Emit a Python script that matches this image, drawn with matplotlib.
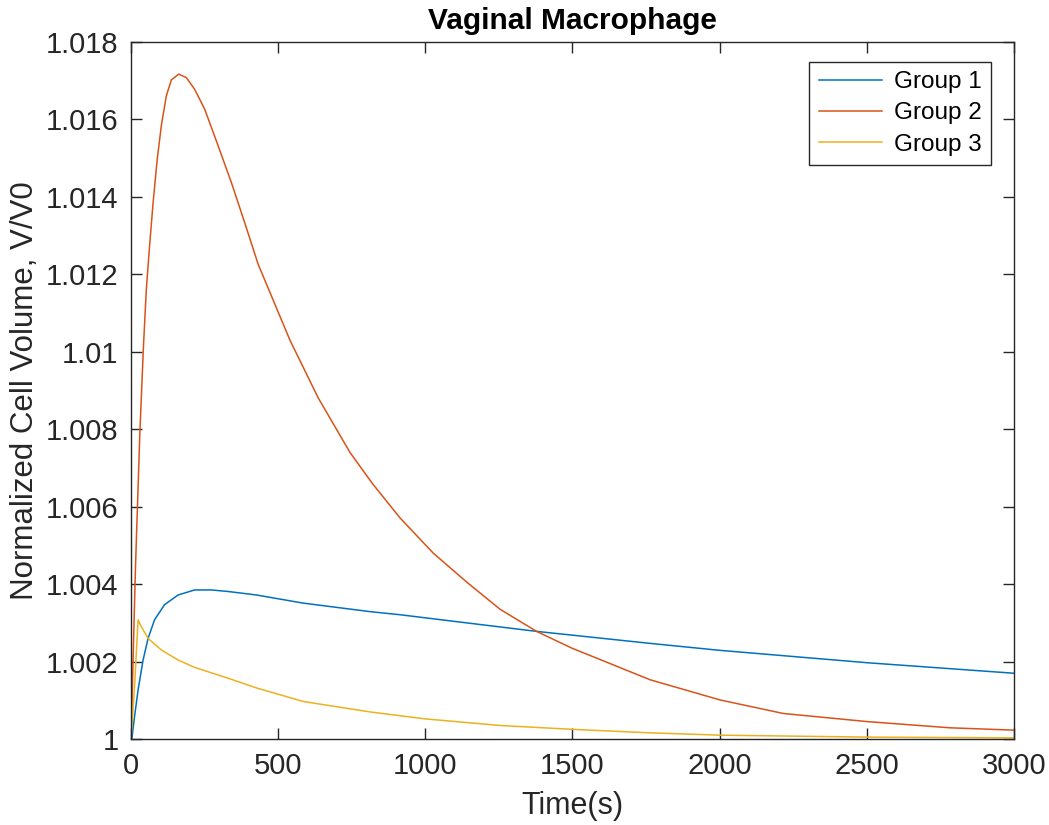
#!/usr/bin/env python3
import matplotlib
matplotlib.use('Agg')
import matplotlib.pyplot as plt

# Data (time in s, normalized volume V/V0)
t1 = [0, 3, 12, 24, 41, 58, 80, 114, 160, 216, 273, 330, 426, 585, 812,
      914, 1140, 1378, 1764, 2001, 2502, 2998]
v1 = [1.0, 1.00002, 1.00058, 1.00127, 1.00204, 1.0026, 1.00308, 1.00347,
      1.00372, 1.00385, 1.00385, 1.00381, 1.00372, 1.00351, 1.00329,
      1.00321, 1.003, 1.00278, 1.00247, 1.00229, 1.00197, 1.0017]

t2 = [0, 15, 30, 42, 52, 63, 75, 89, 103, 120, 137, 162, 188, 216, 250,
      296, 341, 386, 432, 540, 636, 744, 820, 914, 1027, 1141, 1254, 1378,
      1497, 1764, 2001, 2216, 2502, 2783, 2998]
v2 = [1.0, 1.0044, 1.0079, 1.0101, 1.01161, 1.01273, 1.01385, 1.01497,
      1.01584, 1.01661, 1.01702, 1.01717, 1.01708, 1.01678, 1.01627,
      1.01532, 1.01437, 1.01334, 1.01226, 1.0103, 1.00881, 1.0074,
      1.0066, 1.00571, 1.0048, 1.00405, 1.00335, 1.00278, 1.00235,
      1.00153, 1.00101, 1.00066, 1.00045, 1.00029, 1.00023]

t3 = [0, 12, 24, 35, 58, 103, 160, 216, 330, 426, 585, 812, 1000, 1254,
      1500, 1764, 2001, 2500, 3000]
v3 = [1.0, 1.00135, 1.00308, 1.0029, 1.0026, 1.0023, 1.00204, 1.00185,
      1.00157, 1.00132, 1.00097, 1.0007, 1.00052, 1.00035,
      1.00025, 1.00016, 1.0001, 1.00005, 1.00003]

labels = ['Group 1', 'Group 2', 'Group 3']
colors = ['#0072BD', '#D95319', '#EDB120']

xticks = [0, 500, 1000, 1500, 2000, 2500, 3000]
yticks = [1, 1.002, 1.004, 1.006, 1.008, 1.01, 1.012, 1.014, 1.016, 1.018]
ytick_labels = ['1', '1.002', '1.004', '1.006', '1.008', '1.01', '1.012',
                '1.014', '1.016', '1.018']

plt.rcParams['font.family'] = ['Liberation Sans', 'DejaVu Sans']

fig = plt.figure(figsize=(10.49, 8.25), dpi=100)
ax = fig.add_axes([0.1249, 0.1042, 0.8417, 0.8449])

for t, v, lab, c in zip([t1, t2, t3], [v1, v2, v3], labels, colors):
    ax.plot(t, v, color=c, linewidth=1.1, label=lab)

ax.set_xlim(0, 3000)
ax.set_ylim(1, 1.018)
ax.set_xticks(xticks)
ax.set_xticklabels([str(x) for x in xticks])
ax.set_yticks(yticks)
ax.set_yticklabels(ytick_labels)

axis_col = '#262626'
for s in ax.spines.values():
    s.set_color(axis_col)
    s.set_linewidth(1.0)
ax.tick_params(direction='in', top=True, right=True, length=8, width=1.0,
               color=axis_col, labelsize=21, labelcolor=axis_col, pad=9)

ax.set_xlabel('Time(s)', fontsize=22, color=axis_col, labelpad=8)
ax.set_ylabel('Normalized Cell Volume, V/V0', fontsize=22.5, color=axis_col,
              labelpad=4)
ax.set_title('Vaginal Macrophage', fontsize=21.5, fontweight='bold', pad=9)

leg = ax.legend(loc='upper right', bbox_to_anchor=(0.9745, 0.972),
                fontsize=17.5, frameon=True, fancybox=False, handlelength=2.6,
                borderpad=0.4, labelspacing=0.38, handletextpad=0.5,
                borderaxespad=0)
leg.get_frame().set_edgecolor(axis_col)
leg.get_frame().set_linewidth(1.0)
leg.get_frame().set_alpha(1)

plt.savefig('out.png', dpi=100, facecolor='white')
